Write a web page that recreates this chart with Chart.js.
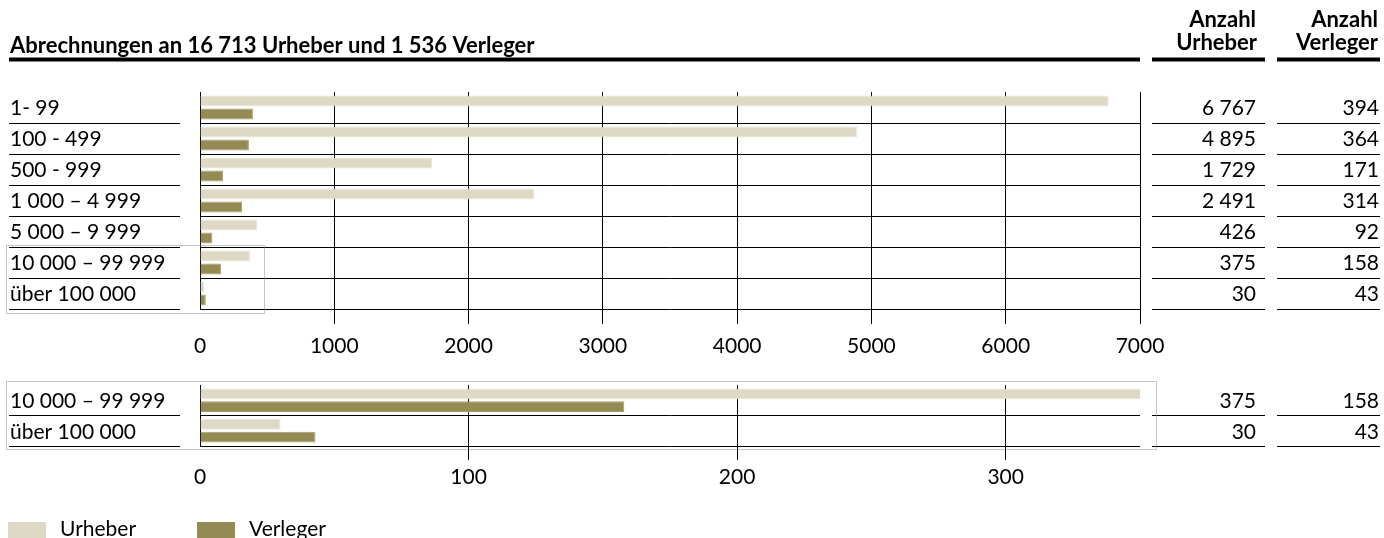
<!DOCTYPE html>
<html lang="de">
<head>
<meta charset="utf-8">
<title>Abrechnungen an Urheber und Verleger</title>
<script src="https://cdn.jsdelivr.net/npm/chart.js@4.4.1/dist/chart.umd.min.js"></script>
<style>
  html, body { margin: 0; padding: 0; background: #fff; }
  #wrap { position: relative; width: 1384px; height: 538px; overflow: hidden; }
  canvas { position: absolute; left: 0; }
  #main { top: 0; }
  #zoom { top: 370px; }
</style>
</head>
<body>
<div id="wrap">
  <canvas id="main" width="1384" height="370"></canvas>
  <canvas id="zoom" width="1384" height="168"></canvas>
</div>
<script>
// Betragsklassen der Abrechnungen
const classes = ['1- 99', '100 - 499', '500 - 999', '1 000 – 4 999', '5 000 – 9 999', '10 000 – 99 999', 'über 100 000'];
const urheber = [6767, 4895, 1729, 2491, 426, 375, 30];
const verleger = [394, 364, 171, 314, 92, 158, 43];

// vergroesserter Ausschnitt der beiden obersten Klassen
const zoomClasses = ['10 000 – 99 999', 'über 100 000'];
const zoomUrheber = [375, 30];
const zoomVerleger = [158, 43];

const seriesNames = ['Urheber', 'Verleger'];
const seriesColors = ['#DDD9C4', '#948A54'];
const seriesBorders = ['#EAE7DA', '#A59C6C'];
const colHeads = [['Anzahl', 'Urheber'], ['Anzahl', 'Verleger']];

const FONT = 'Lato, "Open Sans", sans-serif';
Chart.defaults.font.family = FONT;
Chart.defaults.font.size = 20;
Chart.defaults.color = '#000';

const fmt = v => String(v).replace(/\B(?=(\d{3})+(?!\d))/g, ' ');
const sum = a => a.reduce((s, v) => s + v, 0);
const title = 'Abrechnungen an ' + fmt(sum(urheber)) + ' Urheber und ' + fmt(sum(verleger)) + ' Verleger';

// x positions of the text columns
const LEFT_LINE = [9, 180], COL1 = [1152, 1265], COL2 = [1277, 1380];

function makeDatasets(u, v) {
  return [u, v].map((d, k) => ({
    label: seriesNames[k],
    data: d,
    backgroundColor: seriesColors[k],
    borderColor: seriesBorders[k],
    borderWidth: 1,
    categoryPercentage: 0.84,
    barPercentage: 0.83
  }));
}

function hline(ctx, x0, x1, y) {
  ctx.beginPath();
  ctx.moveTo(x0, y);
  ctx.lineTo(x1, y);
  ctx.stroke();
}

// left labels, number columns and their row lines
const tablePlugin = {
  id: 'table',
  afterDraw(chart, args, opts) {
    const ctx = chart.ctx, y = chart.scales.y, area = chart.chartArea;
    const n = chart.data.labels.length;
    const rowH = (area.bottom - area.top) / n;
    const ds = chart.data.datasets;
    ctx.save();
    ctx.font = '21px ' + FONT;
    ctx.fillStyle = '#000';
    ctx.strokeStyle = '#000';
    ctx.lineWidth = 1;
    ctx.textBaseline = 'middle';
    chart.data.labels.forEach((lab, i) => {
      const yc = y.getPixelForValue(i);
      const yl = Math.round(yc + rowH / 2 - 0.5) + 0.5;
      ctx.textAlign = 'left';
      ctx.fillText(lab, 10, yc + 1);
      ctx.textAlign = 'right';
      ctx.fillText(fmt(ds[0].data[i]), COL1[1] - 9, yc + 1);
      ctx.fillText(fmt(ds[1].data[i]), COL2[1] - 1, yc + 1);
      hline(ctx, LEFT_LINE[0], LEFT_LINE[1], yl);
      hline(ctx, COL1[0], COL1[1], yl);
      hline(ctx, COL2[0], COL2[1], yl);
    });

    // dotted frame marking the enlarged classes
    const b = opts.box;
    if (b) {
      const top = b.from != null ? y.getPixelForValue(b.from) - rowH / 2 - 1 : area.top - 3;
      ctx.strokeStyle = '#8c8c8c';
      ctx.setLineDash([1, 1]);
      ctx.strokeRect(6.5, Math.round(top) - 0.5, b.right - 6, Math.round(area.bottom + b.below - top));
      ctx.setLineDash([]);
    }

    if (opts.header) {
      ctx.font = 'bold 22px ' + FONT;
      ctx.textBaseline = 'alphabetic';
      ctx.textAlign = 'left';
      ctx.fillText(title, 10, 53);
      ctx.textAlign = 'right';
      ctx.fillText(colHeads[0][0], 1256, 27);
      ctx.fillText(colHeads[0][1], 1257, 50);
      ctx.fillText(colHeads[1][0], 1378, 27);
      ctx.fillText(colHeads[1][1], 1378, 50);
      ctx.fillRect(9, 57.5, 1140 - 9, 4);
      ctx.fillRect(COL1[0], 57.5, COL1[1] - COL1[0], 4);
      ctx.fillRect(COL2[0], 57.5, COL2[1] - COL2[0], 4);
    }

    if (opts.legend) {
      ctx.font = '21px ' + FONT;
      ctx.textBaseline = 'alphabetic';
      ctx.textAlign = 'left';
      const xs = [8, 197];
      ds.forEach((d, k) => {
        ctx.fillStyle = d.backgroundColor;
        ctx.fillRect(xs[k], 152, 38, 17);
        ctx.fillStyle = '#000';
        ctx.fillText(d.label, xs[k] + 52, 166);
      });
    }
    ctx.restore();
  }
};

function makeChart(id, labels, u, v, xmax, o) {
  return new Chart(document.getElementById(id), {
    type: 'bar',
    data: { labels: labels, datasets: makeDatasets(u, v) },
    plugins: [tablePlugin],
    options: {
      indexAxis: 'y',
      responsive: false,
      animation: false,
      events: [],
      devicePixelRatio: 1,
      layout: { padding: { left: 200, right: 244, top: o.top, bottom: 0 } },
      plugins: {
        legend: { display: false },
        tooltip: { enabled: false },
        table: { header: o.header, legend: o.legend, box: o.box }
      },
      scales: {
        x: {
          min: 0,
          max: xmax,
          afterFit: s => { s.height = o.axisH; },
          border: { display: false },
          grid: {
            color: '#000',
            lineWidth: 1,
            tickLength: o.tickLen,
            tickColor: c => (c.index === 0 ? 'rgba(0,0,0,0)' : '#000')
          },
          ticks: {
            stepSize: o.step,
            includeBounds: false,
            padding: o.pad,
            maxRotation: 0,
            font: { size: 21 },
            callback: val => String(val)
          }
        },
        y: {
          afterFit: s => { s.width = 0; },
          border: { display: true, color: '#000', width: 1 },
          grid: {
            color: c => (c.index === 0 ? 'rgba(0,0,0,0)' : '#000'),
            lineWidth: 1,
            drawTicks: false
          },
          ticks: { display: false }
        }
      }
    }
  });
}

makeChart('main', classes, urheber, verleger, 7000,
  { top: 92, axisH: 61, tickLen: 15, pad: 10, step: 1000, header: true, legend: false,
    box: { from: 5, right: 264, below: 5 } });

makeChart('zoom', zoomClasses, zoomUrheber, zoomVerleger, 350,
  { top: 15, axisH: 92, tickLen: 14, pad: 5, step: 100, header: false, legend: true,
    box: { from: null, right: 1156, below: 4 } });
</script>
</body>
</html>
